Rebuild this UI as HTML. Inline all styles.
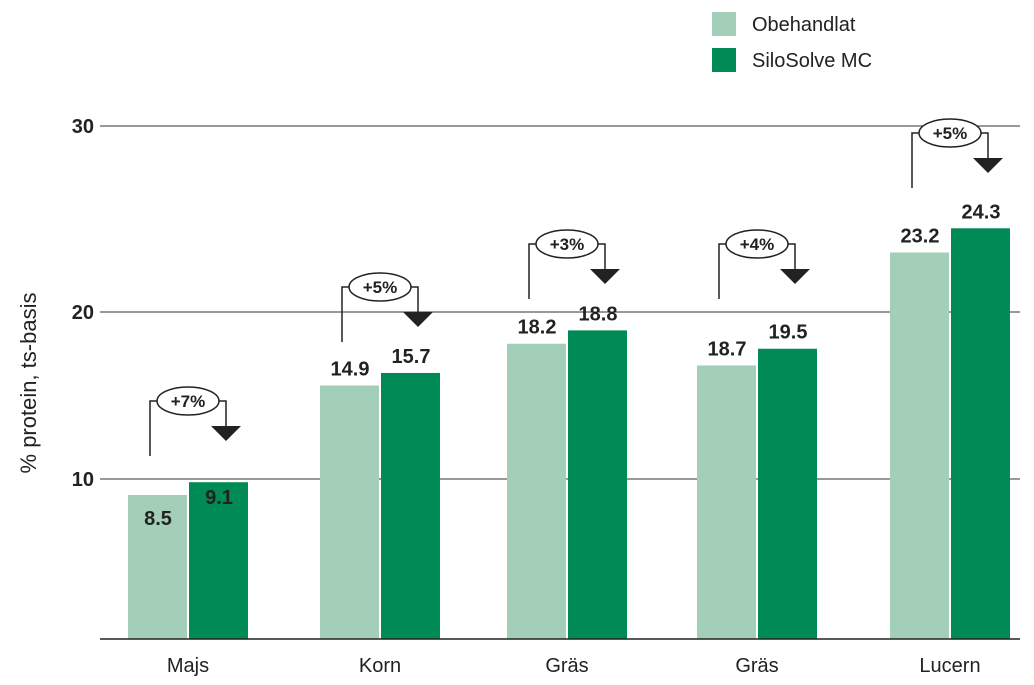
<!DOCTYPE html>
<html><head><meta charset="utf-8">
<style>
html,body{margin:0;padding:0;background:#fff;}
svg{display:block;font-family:"Liberation Sans",sans-serif;}
</style></head>
<body>
<svg id="chart" width="1034" height="685" viewBox="0 0 1034 685"></svg>
<script>
const categories = ["Majs","Korn","Gräs","Gräs","Lucern"];
const obeh = [9.0, 15.6, 18.1, 16.8, 23.2];
const silo = [9.8, 16.35, 18.9, 17.8, 24.5];
const obehLbl = ["8.5","14.9","18.2","18.7","23.2"];
const siloLbl = ["9.1","15.7","18.8","19.5","24.3"];
const diffLbl = ["+7%","+5%","+3%","+4%","+5%"];
const annoTop = [401, 287, 244, 244, 133];
const yTicks = [10, 20, 30];
const yTickLbl = ["10","20","30"];

const NS = "http://www.w3.org/2000/svg";
const svg = document.getElementById("chart");
const axV = [0,10,20,30], axP = [639,479,312,126];
function y(v){
  for(let i=0;i<axV.length-1;i++){
    if(v<=axV[i+1]||i===axV.length-2){
      return axP[i]+(v-axV[i])/(axV[i+1]-axV[i])*(axP[i+1]-axP[i]);
    }
  }
}
const centers=[188,380,567,757,950];
function x(i){return centers[i];}
function mk(tag,attrs,parent){const e=document.createElementNS(NS,tag);for(const k in attrs)e.setAttribute(k,attrs[k]);(parent||svg).appendChild(e);return e;}

// grid
yTicks.forEach((t,i)=>{
  const l=mk("line",{x1:100,x2:1020,y1:y(t),y2:y(t),stroke:"#333","stroke-width":1});
  
  
  const tx=mk("text",{x:94,y:y(t)+7,"text-anchor":"end","font-size":20,"font-weight":"bold",fill:"#222"});
  tx.textContent=yTickLbl[i];
  
  
});
const yt=mk("text",{x:0,y:0,transform:"translate(36,383) rotate(-90)","text-anchor":"middle","font-size":22,fill:"#222"});
yt.textContent="% protein, ts-basis";



const bw=59;
categories.forEach((c,i)=>{
  const cx=x(i);
  const b1=mk("rect",{x:cx-60,y:y(obeh[i]),width:bw,height:y(0)-y(obeh[i]),fill:"#a3cfb8"});
  
  
  const b2=mk("rect",{x:cx+1,y:y(silo[i]),width:bw,height:y(0)-y(silo[i]),fill:"#008a55"});
  
  
  const inside=(i===0);
  const l1=mk("text",{x:cx-30,y:inside?y(obeh[i])+30:y(obeh[i])-10,"text-anchor":"middle","font-size":20,"font-weight":"bold",fill:"#222"});
  l1.textContent=obehLbl[i];
  
  
  const l2=mk("text",{x:cx+31,y:inside?y(silo[i])+22:y(silo[i])-10,"text-anchor":"middle","font-size":20,"font-weight":"bold",fill:"#222"});
  l2.textContent=siloLbl[i];
  
  
  const xl=mk("text",{x:cx,y:672,"text-anchor":"middle","font-size":20,fill:"#222"});
  xl.textContent=c;
  
  
  // annotation
  const T=annoTop[i];
  const g=mk("g",{});
  
  
  mk("polyline",{points:`${cx-38},${T+55} ${cx-38},${T} ${cx+38},${T} ${cx+38},${T+25}`,fill:"none",stroke:"#222","stroke-width":1.5},g);
  mk("polygon",{points:`${cx+23},${T+25} ${cx+53},${T+25} ${cx+38},${T+40}`,fill:"#222"},g);
  mk("ellipse",{cx:cx,cy:T,rx:31,ry:14,fill:"#fff",stroke:"#222","stroke-width":1.5},g);
  const at=mk("text",{x:cx,y:T+6,"text-anchor":"middle","font-size":17,"font-weight":"bold",fill:"#222"},g);
  at.textContent=diffLbl[i];
});
const base=mk("line",{x1:100,x2:1020,y1:y(0),y2:y(0),stroke:"#222","stroke-width":1.5});



// legend
[["Obehandlat","#a3cfb8",12],["SiloSolve MC","#008a55",48]].forEach(([t,col,yy])=>{
  const g=mk("g",{});
  
  
  mk("rect",{x:712,y:yy,width:24,height:24,fill:col},g);
  const tx=mk("text",{x:752,y:yy+19,"font-size":20,fill:"#222"},g);
  tx.textContent=t;
});
</script>
</body></html>
